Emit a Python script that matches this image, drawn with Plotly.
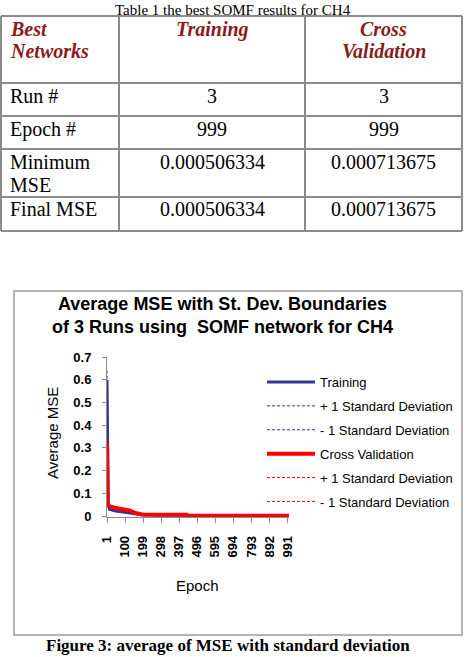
import plotly.graph_objects as go

W, H = 469, 657

# ---------------- Table data ----------------
table_caption = "Table 1 the best SOMF results for CH4"
header_cells = [["Best", "Networks"], ["Training"], ["Cross", "Validation"]]
row_labels = [["Run #"], ["Epoch #"], ["Minimum", "MSE"], ["Final MSE"]]
training_vals = ["3", "999", "0.000506334", "0.000506334"]
cv_vals = ["3", "999", "0.000713675", "0.000713675"]

# ---------------- Chart data ----------------
chart_title = ["Average MSE with St. Dev. Boundaries", "of 3 Runs using  SOMF network for CH4"]
figure_caption = "Figure 3: average of MSE with standard deviation"

epoch_tr = [1, 2, 3, 5, 8, 15, 50, 100, 150, 200, 300, 380, 440, 500, 700, 1000]
train_mean = [0.60, 0.46, 0.30, 0.10, 0.05, 0.030, 0.022, 0.017, 0.009, 0.004, 0.002, 0.001, 0.001, 0.0005, 0.0005, 0.0005]
train_plus = [0.64, 0.50, 0.33, 0.12, 0.06, 0.036, 0.026, 0.020, 0.011, 0.005, 0.003, 0.002, 0.002, 0.001, 0.001, 0.001]
train_minus = [0.56, 0.42, 0.27, 0.08, 0.04, 0.024, 0.018, 0.014, 0.007, 0.003, 0.001, 0.0, 0.0, 0.0, 0.0, 0.0]

epoch_cv = [1, 2, 3, 5, 10, 20, 50, 100, 125, 150, 200, 300, 440, 445, 600, 800, 1000]
cv_mean = [0.32, 0.21, 0.10, 0.05, 0.045, 0.042, 0.035, 0.028, 0.025, 0.015, 0.006, 0.006, 0.006, 0.001, 0.001, 0.001, 0.001]
cv_plus = [0.34, 0.23, 0.12, 0.056, 0.050, 0.046, 0.039, 0.031, 0.028, 0.017, 0.007, 0.007, 0.007, 0.002, 0.002, 0.002, 0.002]
cv_minus = [0.30, 0.19, 0.08, 0.044, 0.040, 0.038, 0.031, 0.025, 0.022, 0.013, 0.005, 0.005, 0.005, 0.0, 0.0, 0.0, 0.0]

x_tick_vals = [1, 100, 199, 298, 397, 496, 595, 694, 793, 892, 991]
y_tick_vals = [0, 0.1, 0.2, 0.3, 0.4, 0.5, 0.6, 0.7]

BLUE = "#333399"
RED = "#FF0000"
DARKRED = "#8B1A1A"
GRID = "#8c8c8c"
SERIF = "Liberation Serif"
SANS = "Liberation Sans"


def px(x):
    return x / W


def py(y):
    return 1 - y / H


fig = go.Figure()

traces = [
    (epoch_tr, train_mean, "Training", BLUE, 3, "solid"),
    (epoch_tr, train_plus, "+ 1 Standard Deviation", BLUE, 1, "3px,2px"),
    (epoch_tr, train_minus, "- 1 Standard Deviation", BLUE, 1, "3px,2px"),
    (epoch_cv, cv_mean, "Cross Validation", RED, 4, "solid"),
    (epoch_cv, cv_plus, "+ 1 Standard Deviation", RED, 1, "3px,2px"),
    (epoch_cv, cv_minus, "- 1 Standard Deviation", RED, 1, "3px,2px"),
]
for i, (xs, ys, name, col, wdt, dash) in enumerate(traces):
    fig.add_trace(go.Scatter(
        x=xs, y=ys, mode="lines", name=name,
        line=dict(color=col, width=wdt, dash=dash),
        legendgroup=f"g{i}", legendrank=i + 1,
    ))

shapes = []
annotations = []

# ---- table grid ----
tx = [1, 119, 305, 462]
ty = [16, 83, 116, 149, 197, 231]
for x in tx:
    shapes.append(dict(type="line", xref="paper", yref="paper",
                       x0=px(x), x1=px(x), y0=py(ty[0]), y1=py(ty[-1]),
                       line=dict(color=GRID, width=2)))
for y in ty:
    shapes.append(dict(type="line", xref="paper", yref="paper",
                       x0=px(tx[0]), x1=px(tx[-1]), y0=py(y), y1=py(y),
                       line=dict(color=GRID, width=2)))

annotations.append(dict(text=table_caption, x=px(233), y=py(0), xref="paper", yref="paper",
                        showarrow=False, xanchor="center", yanchor="top",
                        font=dict(family=SERIF, size=15, color="black")))

col_centers = [None, (tx[1] + tx[2]) / 2, (tx[2] + tx[3]) / 2]
header_line_y = [29, 51]
for ci, lines in enumerate(header_cells):
    for li, t in enumerate(lines):
        if ci == 0:
            xa, xx = "left", px(8)
        else:
            xa, xx = "center", px(col_centers[ci])
        annotations.append(dict(text=f"<b><i>{t}</i></b>", x=xx, y=py(header_line_y[li]),
                                xref="paper", yref="paper", showarrow=False,
                                xanchor=xa, yanchor="middle",
                                font=dict(family=SERIF, size=20, color=DARKRED)))

row_line_y = [[96], [129], [162, 185], [209]]
for ri, lines in enumerate(row_labels):
    for li, t in enumerate(lines):
        annotations.append(dict(text=t, x=px(8), y=py(row_line_y[ri][li]),
                                xref="paper", yref="paper", showarrow=False,
                                xanchor="left", yanchor="middle",
                                font=dict(family=SERIF, size=20, color="black")))
    for ci, vals in ((1, training_vals), (2, cv_vals)):
        annotations.append(dict(text=vals[ri], x=px(col_centers[ci]), y=py(row_line_y[ri][0]),
                                xref="paper", yref="paper", showarrow=False,
                                xanchor="center", yanchor="middle",
                                font=dict(family=SERIF, size=20, color="black")))

# ---- chart box ----
shapes.append(dict(type="rect", xref="paper", yref="paper",
                   x0=px(14), x1=px(462), y0=py(635), y1=py(291),
                   line=dict(color="#9a9a9a", width=1.5)))

for li, t in enumerate(chart_title):
    annotations.append(dict(text=f"<b>{t}</b>", x=px(222), y=py([304, 327][li]),
                            xref="paper", yref="paper", showarrow=False,
                            xanchor="center", yanchor="middle",
                            font=dict(family=SANS, size=18, color="black")))

annotations.append(dict(text="Average MSE", x=px(52), y=py(433), textangle=-90,
                        xref="paper", yref="paper", showarrow=False,
                        xanchor="center", yanchor="middle",
                        font=dict(family=SANS, size=15, color="black")))
annotations.append(dict(text="Epoch", x=px(197), y=py(585),
                        xref="paper", yref="paper", showarrow=False,
                        xanchor="center", yanchor="middle",
                        font=dict(family=SANS, size=15, color="black")))

annotations.append(dict(text=f"<b>{figure_caption}</b>", x=px(228), y=py(657),
                        xref="paper", yref="paper", showarrow=False,
                        xanchor="center", yanchor="bottom",
                        font=dict(family=SERIF, size=17, color="black")))

fig.update_layout(
    width=W, height=H,
    margin=dict(l=0, r=0, t=0, b=0),
    paper_bgcolor="white", plot_bgcolor="white",
    showlegend=True,
    legend=dict(x=px(262), y=py(367), xanchor="left", yanchor="top",
                font=dict(family=SANS, size=13, color="black"),
                itemwidth=48,
                tracegroupgap=4, bgcolor="rgba(0,0,0,0)"),
    shapes=shapes, annotations=annotations,
    xaxis=dict(domain=[px(107), px(289)], range=[1, 1000],
               tickmode="array", tickvals=x_tick_vals,
               ticktext=[f"<b>{v}</b>" for v in x_tick_vals],
               tickangle=-90, ticks="outside", ticklen=5, tickcolor=GRID,
               showline=True, linecolor=GRID, linewidth=1, showgrid=False, zeroline=False,
               tickfont=dict(family=SANS, size=13, color="black"), ticklabelstandoff=8,
               automargin=False),
    yaxis=dict(domain=[py(516.7), py(357)], range=[-0.003, 0.7],
               tickmode="array", tickvals=y_tick_vals,
               ticktext=[f"<b>{v:g}</b>" for v in y_tick_vals],
               ticks="outside", ticklen=4, tickcolor=GRID,
               showline=True, linecolor=GRID, linewidth=1, showgrid=False, zeroline=False,
               tickfont=dict(family=SANS, size=13, color="black"), ticklabelstandoff=8,
               automargin=False),
)

fig.write_html("out.html")
